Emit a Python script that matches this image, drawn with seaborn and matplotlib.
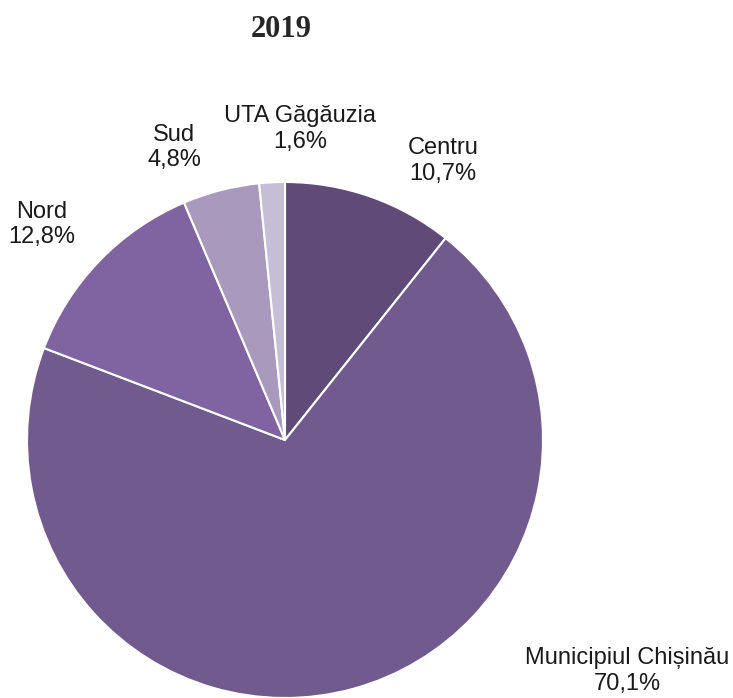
import matplotlib
matplotlib.use("Agg")
import matplotlib.pyplot as plt
import seaborn as sns
import numpy as np

sns.set_theme(style="white")
plt.rcParams['font.family'] = ['Liberation Sans', 'DejaVu Sans']

regions = ["Centru", "Municipiul Chișinău", "Nord", "Sud", "UTA Găgăuzia"]
shares = [10.7, 70.1, 12.8, 4.8, 1.6]
labels = ["10,7%", "70,1%", "12,8%", "4,8%", "1,6%"]
colors = ["#5F4A78", "#705A8E", "#8064A2", "#A899BD", "#C6BDD6"]
title = "2019"

W, H = 733, 698
fig = plt.figure(figsize=(W / 100, H / 100), dpi=100)
cx, cy, r = 285, 440, 258
ax = fig.add_axes([(cx - r) / W, (H - cy - r) / H, 2 * r / W, 2 * r / H])

wedges, _ = ax.pie(shares, colors=colors, startangle=90, counterclock=False,
                   radius=1.0, wedgeprops=dict(edgecolor="white", linewidth=1.5))
ax.set_xlim(-1, 1)
ax.set_ylim(-1, 1)
ax.set_aspect("equal")
ax.axis("off")

label_pos = [(0.612, 1.082), (1.326, -0.895), (-0.942, 0.835), (-0.43, 1.134), (0.058, 1.205)]
for name, lab, (x, y) in zip(regions, labels, label_pos):
    ax.text(x, y, f"{name}\n{lab}", ha="center", va="center", fontsize=17,
            color="#1a1a1a", linespacing=1.22, clip_on=False)

fig.text(281 / W, 1 - 37 / H, title, ha="center", va="baseline", fontsize=22,
         fontweight="bold", family=["Liberation Serif", "DejaVu Serif"])

fig.savefig("out.png", dpi=100)
